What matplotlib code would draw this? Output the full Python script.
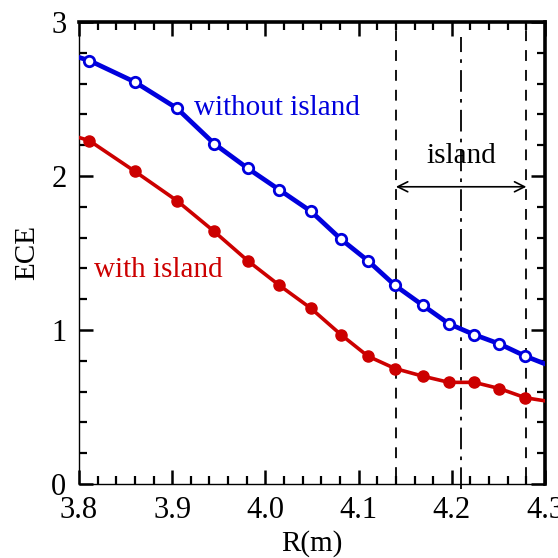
"""
ECE versus R with and without magnetic island.
"""
import matplotlib
matplotlib.use('Agg')
import matplotlib.pyplot as plt
from matplotlib.ticker import MultipleLocator, FormatStrFormatter

# data
r_pts = [3.811, 3.860, 3.905, 3.945, 3.981, 4.015, 4.049, 4.081, 4.110,
         4.139, 4.169, 4.197, 4.224, 4.251, 4.279]
ece_without = [2.75, 2.61, 2.44, 2.21, 2.05, 1.91, 1.77, 1.59, 1.45,
               1.29, 1.16, 1.04, 0.97, 0.91, 0.83]
ece_with = [2.23, 2.03, 1.84, 1.64, 1.45, 1.29, 1.14, 0.97, 0.83,
            0.75, 0.70, 0.66, 0.66, 0.62, 0.56]
# line continues to axis edges
r_edges = [3.8, 4.3]
without_edges = [2.77, 0.78]
with_edges = [2.25, 0.54]

island_in = 4.14
island_out = 4.28
island_mid = 4.21

plt.rcParams['font.family'] = ['Liberation Serif', 'DejaVu Serif']

fig = plt.figure(figsize=(5.58, 5.58), dpi=100)
ax = fig.add_axes([79 / 558, 1 - 484 / 558, 466 / 558, 462 / 558])

blue = '#0000dd'
red = '#cc0000'

r_full = [r_edges[0]] + r_pts + [r_edges[1]]
wo_full = [without_edges[0]] + ece_without + [without_edges[1]]
wi_full = [with_edges[0]] + ece_with + [with_edges[1]]
marks = list(range(1, len(r_pts) + 1))

ax.plot(r_full, wo_full, color=blue, lw=3.4, marker='o', markevery=marks,
        markersize=7.5, markerfacecolor='white', markeredgecolor=blue,
        markeredgewidth=2, zorder=3)
ax.plot(r_full, wi_full, color=red, lw=2.6, marker='o', markevery=marks,
        markersize=8, markerfacecolor=red, markeredgecolor=red,
        zorder=3)

# island boundaries
ax.axvline(island_in, ymin=0.013, ymax=0.987, color='black', lw=1.3,
           dashes=(6, 5), zorder=2)
ax.axvline(island_out, ymin=0.013, ymax=0.987, color='black', lw=1.3,
           dashes=(6, 5), zorder=2)
ax.axvline(island_mid, ymin=-0.01, ymax=0.968, color='black', lw=1.3,
           dashes=(12, 4, 2, 4), clip_on=False, zorder=2)

ax.annotate('', xy=(island_in, 1.93), xytext=(island_out, 1.93),
            arrowprops=dict(arrowstyle='<->', color='black', lw=1.2,
                            shrinkA=0, shrinkB=0, mutation_scale=18))
ax.text(island_mid, 2.13, 'island', fontsize=21, ha='center', va='center')
ax.text(4.012, 2.44, 'without island', fontsize=21, color=blue,
        ha='center', va='center')
ax.text(3.885, 1.39, 'with island', fontsize=21, color=red,
        ha='center', va='center')

ax.set_xlim(3.8, 4.3)
ax.set_ylim(0, 3)
ax.xaxis.set_major_locator(MultipleLocator(0.1))
ax.xaxis.set_minor_locator(MultipleLocator(0.02))
ax.yaxis.set_major_locator(MultipleLocator(1))
ax.yaxis.set_minor_locator(MultipleLocator(0.2))
ax.xaxis.set_major_formatter(FormatStrFormatter('%.1f'))
ax.yaxis.set_major_formatter(FormatStrFormatter('%d'))

ax.tick_params(which='both', direction='in', top=True, right=True,
               labelsize=22, pad=9, color='black')
ax.tick_params(which='major', length=10, width=1.8)
ax.tick_params(which='minor', length=6, width=1.6)

for side in ['top', 'right']:
    ax.spines[side].set_linewidth(2.6)
for side in ['left', 'bottom']:
    ax.spines[side].set_linewidth(1.0)

ax.set_xlabel('R(m)', fontsize=21, labelpad=3)
ax.set_ylabel('ECE', fontsize=21, labelpad=8)

fig.savefig('out.png', dpi=100)
